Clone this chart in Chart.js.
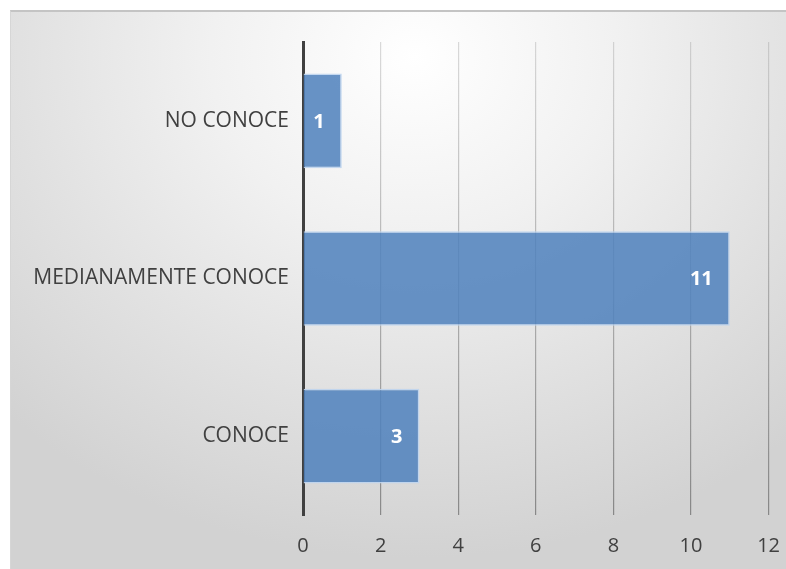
<!DOCTYPE html>
<html>
<head>
<meta charset="utf-8">
<script src="https://cdn.jsdelivr.net/npm/chart.js@4.4.1/dist/chart.umd.min.js"></script>
<style>
  html, body { margin: 0; padding: 0; background: #ffffff; }
  body { width: 786px; height: 569px; overflow: hidden; position: relative; }
  #frame {
    position: absolute; left: 10px; top: 10px; width: 776px; height: 559px;
    box-sizing: border-box;
    border-top: 2px solid #c4c4c4; border-left: 1px solid #d6d6d6;
    background: radial-gradient(ellipse 75% 90% at 52% 8%, #ffffff 0%, #f1f1f1 35%, #e0e0e0 70%, #d2d2d2 100%);
  }
  #wrap { position: absolute; left: 0; top: 0; width: 788px; height: 557px; }
</style>
</head>
<body>
<div id="frame"><div id="wrap"><canvas id="c"></canvas></div></div>
<script>
const categories = ["NO CONOCE", "MEDIANAMENTE CONOCE", "CONOCE"];
const values = [1, 11, 3];
const xTicks = [0, 2, 4, 6, 8, 10, 12];

const valueLabels = {
  id: 'valueLabels',
  afterDatasetsDraw(chart) {
    const ctx = chart.ctx;
    const meta = chart.getDatasetMeta(0);
    ctx.save();
    ctx.font = 'bold 20px "Open Sans", sans-serif';
    ctx.fillStyle = '#ffffff';
    ctx.textAlign = 'right';
    ctx.textBaseline = 'middle';
    meta.data.forEach((bar, i) => {
      ctx.fillText(String(values[i]), bar.x - 17, bar.y + 1);
    });
    ctx.restore();
  }
};

function gridColor(context) {
  const chart = context.chart;
  const a = chart.chartArea;
  if (!a) return '#aaaaaa';
  const g = chart.ctx.createLinearGradient(0, a.top, 0, a.bottom);
  g.addColorStop(0, 'rgba(150,150,150,0.35)');
  g.addColorStop(1, 'rgba(110,110,110,0.75)');
  return g;
}

new Chart(document.getElementById('c'), {
  type: 'bar',
  data: {
    labels: categories,
    datasets: [{
      data: values,
      backgroundColor: 'rgba(79,129,189,0.86)',
      borderColor: 'rgba(190,212,238,0.9)',
      borderWidth: 1.5,
      borderSkipped: 'start',
      categoryPercentage: 1.0,
      barPercentage: 0.6
    }]
  },
  options: {
    indexAxis: 'y',
    responsive: true,
    maintainAspectRatio: false,
    animation: false,
    layout: { padding: { top: 30, right: 4, bottom: 0, left: 0 } },
    plugins: { legend: { display: false }, tooltip: { enabled: false } },
    scales: {
      x: {
        min: 0, max: 12,
        afterBuildTicks(scale) { scale.ticks = xTicks.map(v => ({ value: v })); },
        grid: { color: gridColor, lineWidth: 1.2, drawTicks: false },
        border: { display: false },
        ticks: { color: '#404040', font: { family: '"Open Sans", sans-serif', size: 20 }, padding: 19 },
        afterFit(scale) { scale.height = 54; }
      },
      y: {
        grid: { display: false, drawTicks: false },
        border: { display: true, color: '#404040', width: 3 },
        ticks: { color: '#404040', font: { family: '"Open Sans", sans-serif', size: 21 }, padding: 14 },
        afterFit(scale) { scale.width = 292; }
      }
    }
  },
  plugins: [valueLabels]
});
</script>
</body>
</html>
